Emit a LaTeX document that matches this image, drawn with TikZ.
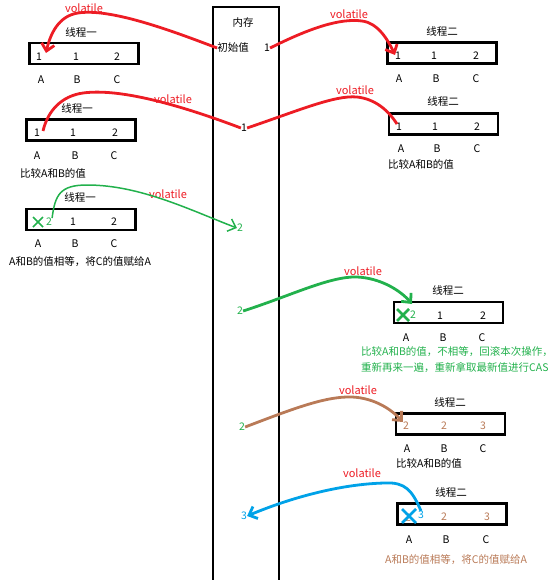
\documentclass[tikz,border=0pt]{standalone}
\usepackage{fontspec}
\setmainfont{Noto Sans CJK SC}
\usetikzlibrary{arrows.meta}
\definecolor{pred}{RGB}{237,28,36}
\definecolor{pgreen}{RGB}{34,177,76}
\definecolor{pbrown}{RGB}{185,122,87}
\definecolor{pblue}{RGB}{0,162,232}
\begin{document}
\begin{tikzpicture}[x=1pt,y=-1pt,
  every node/.style={inner sep=0pt, font=\fontsize{10.5}{12}\selectfont},
  box/.style={draw, line width=2.8pt, minimum width=109pt, minimum height=21pt},
  vol/.style={text=pred, font=\fontsize{11}{12}\selectfont},
  thick3/.style={line width=2.8pt},
  arrowend/.style={-{Straight Barb[length=7pt,width=13pt]}}]
\useasboundingbox (0,0) rectangle (558,580);

% memory column
\draw[line width=2.8pt] (213,581) -- (213,7) -- (279,7) -- (279,581);
\node (mem) at (243,23) {内存};
\node (init) at (233,48) {初始值};
\node (m1) at (267,48) {1};
\node (m1b) at (244,128) {1};
\node[text=pgreen] (m2) at (240,228) {2};
\node[text=pgreen] (m3) at (240,311) {2};
\node[text=pgreen] (m4) at (242,427) {2};
\node[text=pblue] (m5) at (244,516) {3};

% thread one, box 1
\node (h1) at (81,32) {线程一};
\node[box] (b1) at (84,53.5) {};
\node (t1a) at (39,57) {1};
\node (t1b) at (76,57) {1};
\node (t1c) at (117,57) {2};
\node (l1a) at (41,80) {A};
\node (l1b) at (77,80) {B};
\node (l1c) at (117,80) {C};
\node[vol] (v1) at (84,8) {volatile};

% thread one, box 2
\node (h2) at (77,108) {线程一};
\node[box] (b2) at (81,130) {};
\node (t2a) at (37,133) {1};
\node (t2b) at (73,133) {1};
\node (t2c) at (115,133) {2};
\node (l2a) at (37,156) {A};
\node (l2b) at (75,156) {B};
\node (l2c) at (114,156) {C};
\node[anchor=west] (c2) at (20,173) {比较A和B的值};
\node[vol] (v2) at (173,99) {volatile};

% thread one, box 3
\node (h3) at (80,197) {线程一};
\node[box] (b3) at (81,219.5) {};
\node[text=pgreen] (t3a) at (49,222) {2};
\node (t3b) at (73,222) {1};
\node (t3c) at (114,222) {2};
\node (l3a) at (38,244) {A};
\node (l3b) at (75,244) {B};
\node (l3c) at (114,244) {C};
\node[anchor=west] (c3) at (9,262) {A和B的值相等，将C的值赋给A};
\node[vol] (v3) at (168,194) {volatile};
\draw[pgreen, line width=1.5pt] (33,217) -- (43,227) (33,227) -- (43,217);

% thread two, box 1
\node (k1) at (442,31) {线程二};
\node[box] (r1) at (442,53) {};
\node (r1a) at (398,56) {1};
\node (r1b) at (434,56) {1};
\node (r1c) at (476,56) {2};
\node (q1a) at (399,79) {A};
\node (q1b) at (436,79) {B};
\node (q1c) at (476,79) {C};
\node[vol] (w1) at (349,14) {volatile};

% thread two, box 2
\node (k2) at (443,101) {线程二};
\node[box] (r2) at (443.5,124) {};
\node (r2a) at (399,127) {1};
\node (r2b) at (435,127) {1};
\node (r2c) at (477,127) {2};
\node (q2a) at (401,149) {A};
\node (q2b) at (437,149) {B};
\node (q2c) at (477,149) {C};
\node[anchor=west] (d2) at (388,164) {比较A和B的值};
\node[vol] (w2) at (355,90) {volatile};

% thread two, box 3
\node (k3) at (448,290) {线程二};
\node[box] (r3) at (448.5,312.5) {};
\node[text=pgreen] (r3a) at (413,315) {2};
\node (r3b) at (440,316) {1};
\node (r3c) at (483,316) {2};
\node (q3a) at (406,338) {A};
\node (q3b) at (443,338) {B};
\node (q3c) at (482,338) {C};
\node[anchor=west, text=pgreen] (d3a) at (361,352) {比较A和B的值，不相等，回滚本次操作，};
\node[anchor=west, text=pgreen] (d3b) at (361,368) {重新再来一遍，重新拿取最新值进行CAS};
\node[vol] (w3) at (363,271) {volatile};
\draw[pgreen, line width=2.8pt] (397,309) -- (409,321) (397,321) -- (409,309);

% thread two, box 4
\node (k4) at (450,402) {线程二};
\node[box] (r4) at (450.5,424) {};
\node[text=pbrown] (r4a) at (406,426) {2};
\node[text=pbrown] (r4b) at (444,426) {2};
\node[text=pbrown] (r4c) at (483,426) {3};
\node (q4a) at (407,449) {A};
\node (q4b) at (444,449) {B};
\node (q4c) at (483,449) {C};
\node[anchor=west] (d4) at (396,463) {比较A和B的值};
\node[vol] (w4) at (358,390) {volatile};

% thread two, box 5
\node (k5) at (451,492) {线程二};
\node[box] (r5) at (452,514) {};
\node[text=pbrown] (r5x) at (408,518) {2};
\node[text=pblue] (r5a) at (421,515) {3};
\node[text=pbrown] (r5b) at (444,517) {2};
\node[text=pbrown] (r5c) at (487,517) {3};
\node (q5a) at (409,540) {A};
\node (q5b) at (446,540) {B};
\node (q5c) at (486,540) {C};
\node[anchor=west, text=pbrown] (d5) at (385,560) {A和B的值相等，将C的值赋给A};
\node[vol] (w5) at (362,473) {volatile};
\draw[pblue, line width=2.8pt] (402,509) -- (416,523) (402,523) -- (416,509);

% connector end points
\coordinate (e1) at (46,53);
\coordinate (e2) at (43,131);
\coordinate (e3) at (395,55);
\coordinate (e4) at (397,124);
\coordinate (e6) at (412,304);

% connectors
\draw[pred, thick3, arrowend] (init.west) .. controls (170,30) and (110,8) .. (78,13)
      .. controls (58,16) and (50,35) .. (e1);
\draw[pred, thick3] (m1b.west) .. controls (180,105) and (120,88) .. (83,93)
      .. controls (62,96) and (48,110) .. (e2);
\draw[pred, thick3, arrowend] (m1.east) .. controls (310,28) and (340,18) .. (362,21)
      .. controls (378,23) and (388,40) .. (e3);
\draw[pred, thick3] (m1b.east) .. controls (300,110) and (335,95) .. (357,97)
      .. controls (375,99) and (388,110) .. (e4);
\draw[pgreen, line width=1.5pt, arrowend] (t3a.north east) .. controls (55,195) and (60,185) .. (87,185)
      .. controls (140,185) and (190,210) .. (m2.west);
\draw[pgreen, thick3, arrowend] (m3.east) .. controls (290,296) and (330,276) .. (357,277)
      .. controls (380,278) and (400,290) .. (e6);
\draw[pbrown, thick3, arrowend] (m4.east) .. controls (290,410) and (325,396) .. (352,397)
      .. controls (375,398) and (392,410) .. (r4a.north west);
\draw[pblue, thick3, arrowend] (r5a.north) .. controls (412,490) and (405,482) .. (385,483)
      .. controls (340,484) and (290,498) .. (m5.east);
\end{tikzpicture}
\end{document}
